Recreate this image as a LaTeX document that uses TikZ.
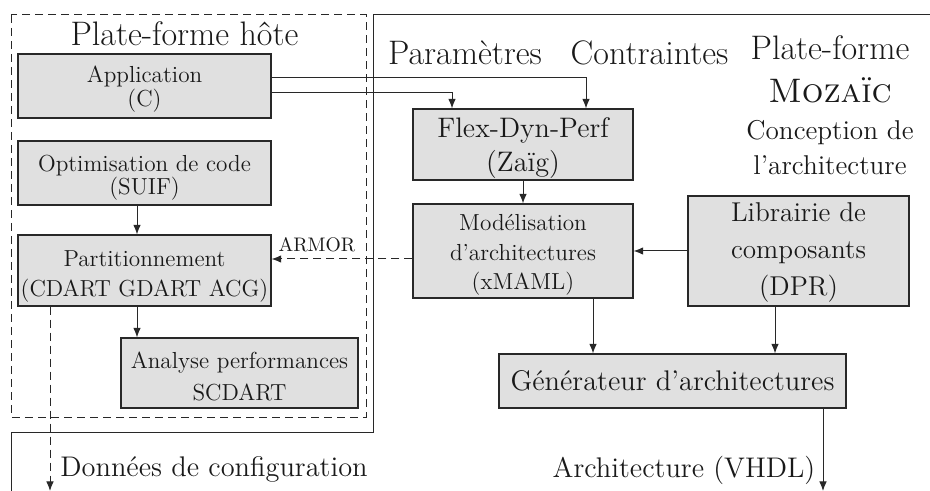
\documentclass[tikz,border=0pt]{standalone}
\usetikzlibrary{arrows.meta}
\definecolor{boxfill}{RGB}{224,224,224}
\definecolor{ink}{RGB}{40,40,40}
\begin{document}
\begin{tikzpicture}[x=0.5pt,y=-0.5pt,
  box/.style={draw=ink, fill=boxfill, line width=0.6pt, inner sep=0pt, rectangle},
  lbl/.style={anchor=base, inner sep=0pt, text=black!90},
  fs/.style={font=\fontsize{11.6}{13}\selectfont},
  fflex/.style={font=\fontsize{14.1}{16}\selectfont},
  flib/.style={font=\fontsize{13.6}{16}\selectfont},
  fgen/.style={font=\fontsize{14.2}{16}\selectfont},
  fbig/.style={font=\fontsize{17}{20}\selectfont},
  fmid/.style={font=\fontsize{13.6}{16}\selectfont},
  farm/.style={font=\fontsize{9.8}{11}\selectfont},
  fout/.style={font=\fontsize{14.2}{16}\selectfont},
  arr/.style={draw=ink, line width=0.5pt, -{Latex[length=4.8pt,width=3.8pt]}},
  dashline/.style={draw=ink, line width=0.5pt, dash pattern=on 4pt off 2.5pt},
  frame/.style={draw=ink, line width=0.5pt}
]
\useasboundingbox (0,0) rectangle (930,491);

% frames
\draw[dashline] (11,15) rectangle (366,417);
\draw[frame] (930,15) -- (373,15) -- (373,432) -- (11,432) -- (11,491);

% boxes
\node[box, minimum width=126.5pt, minimum height=32pt] (app) at (144.5,86) {};
\node[box, minimum width=126.5pt, minimum height=32pt] (opt) at (144.5,173) {};
\node[box, minimum width=126.5pt, minimum height=35.5pt] (part) at (144.5,270.5) {};
\node[box, minimum width=118.5pt, minimum height=35pt] (ana) at (239.5,373) {};
\node[box, minimum width=110pt, minimum height=35.5pt] (flex) at (523,144.5) {};
\node[box, minimum width=110pt, minimum height=47pt] (mod) at (523,251) {};
\node[box, minimum width=110.5pt, minimum height=55pt] (lib) at (798.5,251) {};
\node[box, minimum width=173.5pt, minimum height=27pt] (gen) at (672.5,381) {};

% titles
\node[lbl,fbig] (thote) at (184.5,46) {Plate-forme hôte};
\node[lbl,fbig] (tparam) at (465,65) {Paramètres};
\node[lbl,fbig] (tcontr) at (649.5,65) {Contraintes};
\node[lbl,fbig] (tpf) at (830,60) {Plate-forme};
\node[lbl,fbig] (tmoz) at (830,103) {\textsc{Mozaïc}};
\node[lbl,fmid] (tconc) at (830,140) {Conception de};
\node[lbl,fmid] (tarch) at (830,175) {l’architecture};

% box texts
\node[lbl,fs] (tapp1) at (144.5,83) {Application};
\node[lbl,fs] (tapp2) at (144.5,107) {(C)};
\node[lbl,fs] (topt1) at (144.5,172) {Optimisation de code};
\node[lbl,fs] (topt2) at (144.5,195) {(SUIF)};
\node[lbl,fs] (tpart1) at (144.5,267) {Partitionnement};
\node[lbl,fs] (tpart2) at (144.5,297) {(CDART GDART ACG)};
\node[lbl,fs] (tana1) at (239.5,368) {Analyse performances};
\node[lbl,fs] (tana2) at (239.5,400) {SCDART};
\node[lbl,fflex] (tflex1) at (523,138) {Flex-Dyn-Perf};
\node[lbl,fflex] (tflex2) at (523,172) {(Zaïg)};
\node[lbl,fs] (tmod1) at (523,231) {Modélisation};
\node[lbl,fs] (tmod2) at (523,261) {d’architectures};
\node[lbl,fs] (tmod3) at (523,290) {(xMAML)};
\node[lbl,flib] (tlib1) at (798.5,222) {Librairie de};
\node[lbl,flib] (tlib2) at (798.5,259) {composants};
\node[lbl,flib] (tlib3) at (798.5,296) {(DPR)};
\node[lbl,fgen] (tgen) at (672.5,390) {Générateur d’architectures};

% connectors
\draw[arr] ([yshift=4pt]app.east) -| ([xshift=31.5pt]flex.north);
\draw[arr] ([yshift=-3.5pt]app.east) -| ([xshift=-35.5pt]flex.north);
\draw[arr] ([xshift=-3.75pt]opt.south) -- ([xshift=-3.75pt]part.north);
\draw[arr] ([xshift=-3.75pt]part.south) -- ([xshift=-3.75pt]part.south |- ana.north);
\draw[arr] (flex.south) -- (mod.north);
\draw[arr] (lib.west) -- (mod.east);
\draw[arr,dash pattern=on 4pt off 2.5pt] ([yshift=-4pt]mod.west) -- ([yshift=-4pt]mod.west -| part.east);
\node[lbl,farm] (tarmor) at (317,252) {ARMOR};
\draw[arr] ([xshift=35pt]mod.south) -- ([xshift=35pt]mod.south |- gen.north);
\draw[arr] ([xshift=-11.75pt]lib.south) -- ([xshift=-11.75pt]lib.south |- gen.north);
\coordinate (vhdl) at (823,491);
\coordinate (cfg) at (50,491);
\draw[arr] (gen.south -| vhdl) -- (vhdl);
\draw[arr,dash pattern=on 4pt off 2.5pt] (part.south -| cfg) -- (cfg);
\node[lbl,fout,anchor=base west] (tcfg) at (60,476) {Données de configuration};
\node[lbl,fout] (tvhdl) at (684,477) {Architecture (VHDL)};
\end{tikzpicture}
\end{document}
